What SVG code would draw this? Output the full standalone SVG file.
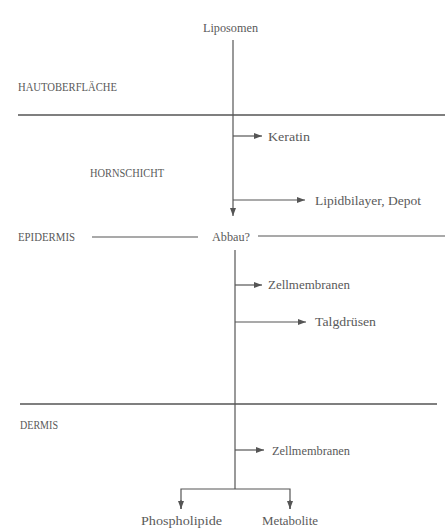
<svg xmlns="http://www.w3.org/2000/svg" width="445" height="529" viewBox="0 0 445 529">
<style>
text{font-family:"Liberation Serif","DejaVu Serif",serif;font-size:13.5px;fill:#5a5a5a;dominant-baseline:central}
.ln{stroke:#555;stroke-width:1.2;fill:none}
.bd{stroke:#555;stroke-width:1.6;fill:none}
</style>
<defs>
<marker id="ah" viewBox="0 0 8 6" refX="8" refY="3" markerWidth="8" markerHeight="6" orient="auto" markerUnits="userSpaceOnUse">
<path d="M0,0 L8,3 L0,6 z" fill="#555"/>
</marker>
</defs>
<rect width="445" height="529" fill="#fff"/>
<g id="layers">
<line class="bd" x1="18" y1="115" x2="445" y2="115"/>
<line class="ln" x1="92" y1="237" x2="198" y2="237"/>
<line class="ln" x1="258" y1="236" x2="445" y2="236"/>
<line class="bd" x1="20" y1="404" x2="437" y2="404"/>
</g>
<g id="labels">
<text id="n-hautoberflaeche" x="18" y="86" textLength="99" lengthAdjust="spacingAndGlyphs">HAUTOBERFLÄCHE</text>
<text id="n-hornschicht" x="90" y="172" textLength="74" lengthAdjust="spacingAndGlyphs">HORNSCHICHT</text>
<text id="n-epidermis" x="18" y="236" textLength="57" lengthAdjust="spacingAndGlyphs">EPIDERMIS</text>
<text id="n-dermis" x="20" y="424" textLength="38" lengthAdjust="spacingAndGlyphs">DERMIS</text>
</g>
<g id="n-liposomen"><text x="203" y="27" textLength="55" lengthAdjust="spacingAndGlyphs">Liposomen</text></g>
<g id="n-keratin"><text x="268" y="136" textLength="42" lengthAdjust="spacingAndGlyphs">Keratin</text></g>
<g id="n-lipidbilayer"><text x="315" y="200" textLength="106" lengthAdjust="spacingAndGlyphs">Lipidbilayer, Depot</text></g>
<g id="n-abbau"><text x="212" y="236" textLength="38" lengthAdjust="spacingAndGlyphs">Abbau?</text></g>
<g id="n-zellmembranen1"><text x="268" y="284" textLength="82" lengthAdjust="spacingAndGlyphs">Zellmembranen</text></g>
<g id="n-talgdruesen"><text x="315" y="321" textLength="61" lengthAdjust="spacingAndGlyphs">Talgdrüsen</text></g>
<g id="n-zellmembranen2"><text x="272" y="450" textLength="78" lengthAdjust="spacingAndGlyphs">Zellmembranen</text></g>
<g id="n-phospholipide"><text x="141" y="520" textLength="81" lengthAdjust="spacingAndGlyphs">Phospholipide</text></g>
<g id="n-metabolite"><text x="262" y="520" textLength="56" lengthAdjust="spacingAndGlyphs">Metabolite</text></g>
<g id="connectors">
<line class="ln" x1="233" y1="40" x2="233" y2="216" marker-end="url(#ah)"/>
<line class="ln" x1="233" y1="136" x2="262" y2="136" marker-end="url(#ah)"/>
<line class="ln" x1="233" y1="200" x2="305" y2="200" marker-end="url(#ah)"/>
<line class="ln" x1="235" y1="250" x2="235" y2="489"/>
<line class="ln" x1="235" y1="285" x2="262" y2="285" marker-end="url(#ah)"/>
<line class="ln" x1="235" y1="322" x2="306" y2="322" marker-end="url(#ah)"/>
<line class="ln" x1="235" y1="450" x2="264" y2="450" marker-end="url(#ah)"/>
<polyline class="ln" points="181,509 181,489 290,489 290,509"/>
<line class="ln" x1="181" y1="500" x2="181" y2="509" marker-end="url(#ah)"/>
<line class="ln" x1="290" y1="500" x2="290" y2="509" marker-end="url(#ah)"/>
</g>
</svg>
